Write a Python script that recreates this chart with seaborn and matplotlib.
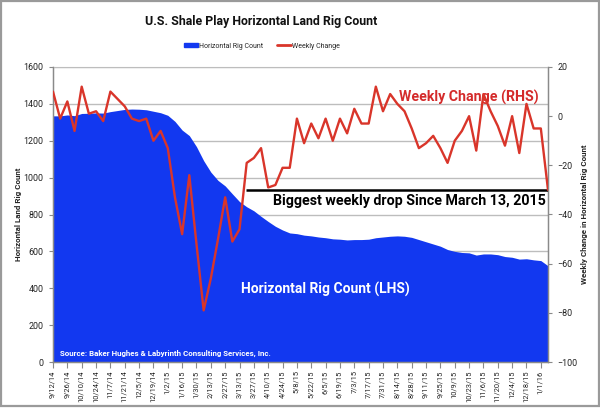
import matplotlib
matplotlib.use("Agg")
import matplotlib.pyplot as plt
import seaborn as sns
import pandas as pd
import numpy as np
from matplotlib.patches import Patch, Rectangle
from matplotlib.lines import Line2D

# ---------------- data ----------------
first_week = "2014-09-12"
n_weeks = 70

rig_count = [1335, 1335, 1340, 1336, 1348, 1349, 1351, 1350, 1358, 1364,
             1370, 1372, 1371, 1368, 1360, 1352, 1338, 1305, 1258, 1228,
             1168, 1092, 1030, 985, 955, 912, 870, 842, 820, 790,
             762, 736, 716, 700, 696, 688, 684, 678, 674, 668,
             666, 662, 664, 664, 666, 674, 678, 682, 684, 682,
             676, 664, 652, 640, 628, 610, 600, 594, 592, 580,
             586, 586, 582, 572, 568, 558, 560, 554, 550, 522]

weekly_change = [10, -1, 6, -6, 12, 1, 2, -2, 10, 7,
                 4, -1, -2, -1, -10, -6, -13, -33, -48, -24,
                 -52, -79, -66, -50, -33, -51, -46, -19, -17, -13,
                 -29, -28, -21, -21, -1, -11, -3, -9, -1, -10,
                 -1, -7, 3, -3, -3, 12, 2, 9, 5, 2,
                 -5, -13, -11, -8, -13, -19, -10, -6, 0, -14,
                 9, 2, -4, -12, 0, -15, 5, -5, -5, -30]

tick_labels = ["9/12/14", "9/26/14", "10/10/14", "10/24/14", "11/7/14", "11/21/14",
               "12/5/14", "12/19/14", "1/2/15", "1/16/15", "1/30/15", "2/13/15",
               "2/27/15", "3/13/15", "3/27/15", "4/10/15", "4/24/15", "5/8/15",
               "5/22/15", "6/5/15", "6/19/15", "7/3/15", "7/17/15", "7/31/15",
               "8/14/15", "8/28/15", "9/11/15", "9/25/15", "10/9/15", "10/23/15",
               "11/6/15", "11/20/15", "12/4/15", "12/18/15", "1/1/16"]

biggest_drop = -30
drop_since = "2015-03-20"

weeks = pd.date_range(first_week, periods=n_weeks, freq="7D")
df = pd.DataFrame({"week": weeks, "rigs": rig_count, "change": weekly_change})

# ---------------- style ----------------
sns.set_style("white")
plt.rcParams["font.family"] = ["Roboto", "Liberation Sans", "DejaVu Sans"]

BLUE = "#1238F0"
RED = "#D9352A"
GRID = "#BDBDBD"
SPINE = "#8A8A8A"

fig = plt.figure(figsize=(6, 4.08), dpi=100)
fig.patch.set_facecolor("white")
fig.add_artist(Rectangle((0.002, 0.006), 0.996, 0.992, transform=fig.transFigure,
                         fill=False, edgecolor="#9A9A9A", linewidth=1.6))

ax = fig.add_axes([53 / 600, 1 - 362 / 408, 495 / 600, 295 / 408])

ax.fill_between(df["week"], 0, df["rigs"], color=BLUE, linewidth=0, zorder=2)
ax.set_ylim(0, 1600)
ax.set_xlim(weeks[0], weeks[-1])
ax.set_yticks(np.arange(0, 1601, 200))
ax.set_axisbelow(True)
ax.yaxis.grid(True, color=GRID, linewidth=1.0)
ax.tick_params(axis="y", labelsize=6.4, length=3, color=SPINE, pad=4, labelcolor="#222222")

tick_pos = weeks[::2]
ax.set_xticks(tick_pos)
ax.set_xticklabels(tick_labels, rotation=90, fontsize=5.4, color="#222222")
ax.tick_params(axis="x", length=4, color=SPINE, pad=2, direction="out", bottom=True)
ax.set_xlabel("")
ax.set_ylabel("Horizontal Land Rig Count", fontsize=5.8, fontweight="bold", labelpad=1)

for s in ["left", "bottom", "right"]:
    ax.spines[s].set_color(SPINE)
    ax.spines[s].set_linewidth(1.0)
ax.spines["top"].set_color(GRID)

ax2 = ax.twinx()
sns.lineplot(data=df, x="week", y="change", ax=ax2, color=RED, linewidth=1.7, zorder=5)
ax2.set_ylim(-100, 20)
ax2.set_yticks(np.arange(-100, 21, 20))
ax2.tick_params(axis="y", labelsize=6.4, length=3, color=SPINE, pad=4, labelcolor="#222222")
ax2.set_ylabel("Weekly Change in Horizontal Rig Count", fontsize=5.8, fontweight="bold",
               rotation=90, labelpad=2)
ax2.set_xlabel("")
for s in ["left", "bottom", "right"]:
    ax2.spines[s].set_color(SPINE)
ax2.spines["top"].set_visible(False)

# annotation line for biggest drop
ax2.hlines(biggest_drop, pd.Timestamp(drop_since) - pd.Timedelta(days=1), weeks[-1],
           color="black", linewidth=1.8, zorder=4)
ax2.text(0.995, (biggest_drop - 1.6 + 100) / 120, "Biggest weekly drop Since March 13, 2015",
         transform=ax2.transAxes, ha="right", va="top", fontsize=10.3, fontweight="bold",
         color="black")
ax2.text(0.84, 0.895, "Weekly Change (RHS)", transform=ax2.transAxes, ha="center",
         va="center", fontsize=10.2, fontweight="bold", color="#D42A2A")
ax2.text(0.55, 0.245, "Horizontal Rig Count (LHS)", transform=ax2.transAxes, ha="center",
         va="center", fontsize=10.0, fontweight="bold", color="white", zorder=6)
ax2.text(0.014, 0.03, "Source: Baker Hughes & Labyrinth Consulting Services, Inc.",
         transform=ax2.transAxes, ha="left", va="center", fontsize=5.7, fontweight="bold",
         color="white", zorder=6)

# title and legend
fig.text(261 / 600, 1 - 21 / 408, "U.S. Shale Play Horizontal Land Rig Count",
         ha="center", va="center", fontsize=8.9, fontweight="bold", color="#111111")
handles = [Patch(facecolor=BLUE, edgecolor=BLUE, label="Horizontal Rig Count"),
           Line2D([0], [0], color=RED, linewidth=2, label="Weekly Change")]
fig.legend(handles=handles, loc="center", bbox_to_anchor=(262 / 600, 1 - 46 / 408),
           ncol=2, frameon=False, fontsize=5.0, handlelength=2.0, handleheight=0.6,
           handletextpad=0.2, columnspacing=1.9)

fig.savefig("out.png", dpi=100)
